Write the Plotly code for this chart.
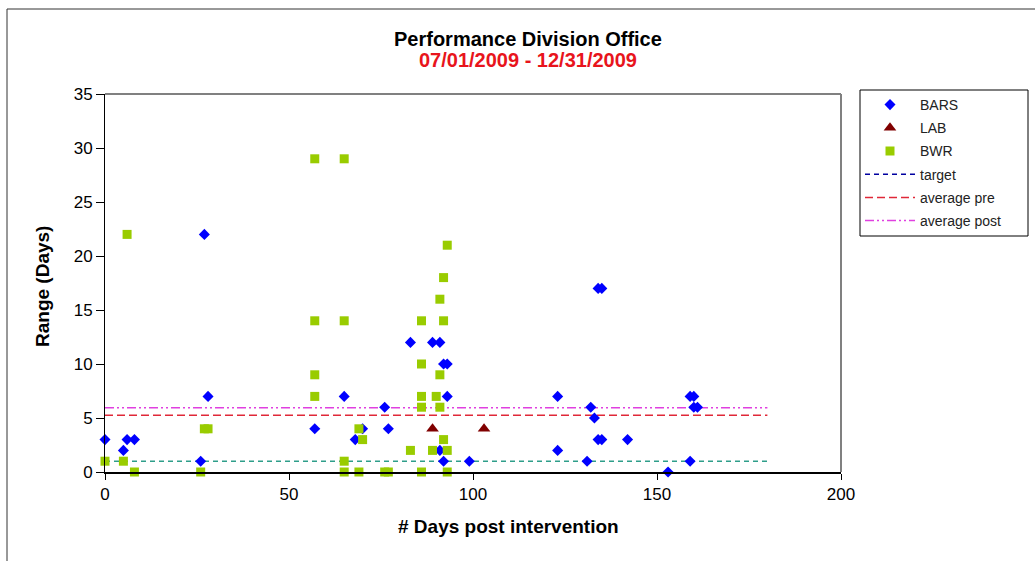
import plotly.graph_objects as go

# ---------------- data ----------------
bars_x = [0, 5, 6, 8, 26, 27, 28, 57, 65, 68, 70, 76, 77, 83, 89, 91, 92, 93, 93,
          91, 92, 99, 123, 123, 131, 132, 133, 134, 135, 134, 135, 142, 153, 159,
          159, 160, 160, 161]
bars_y = [3, 2, 3, 3, 1, 22, 7, 4, 7, 3, 4, 6, 4, 12, 12, 12, 10, 10, 7,
          2, 1, 1, 7, 2, 1, 6, 5, 17, 17, 3, 3, 3, 0, 1,
          7, 7, 6, 6]

lab_x = [89, 103]
lab_y = [4, 4]

bwr_x = [0, 5, 6, 8, 26, 27, 28, 57, 65, 57, 65, 57, 57, 65, 65, 69, 70, 69, 76, 77,
         83, 86, 86, 86, 86, 86, 89, 90, 91, 91, 91, 92, 92, 92, 93, 93, 93]
bwr_y = [1, 1, 22, 0, 0, 4, 4, 29, 29, 14, 14, 9, 7, 1, 0, 4, 3, 0, 0, 0,
         2, 14, 10, 7, 6, 0, 2, 7, 16, 9, 6, 18, 14, 3, 21, 2, 0]

line_x = [0, 180]
target = 1
avg_pre = 5.25
avg_post = 5.95

x_ticks = [0, 50, 100, 150, 200]
y_ticks = [0, 5, 10, 15, 20, 25, 30, 35]

title_main = "Performance Division Office"
title_sub = "07/01/2009 - 12/31/2009"
x_title = "# Days post intervention"
y_title = "Range (Days)"

# ---------------- layout helpers ----------------
W, H = 1035, 561
L, R, T, B = 105, 841, 94, 472  # plot area in px
pw, ph = R - L, B - T


def px(x):
    return (x - L) / pw


def py(y):
    return (B - y) / ph


FONT = "Liberation Sans, Arial, sans-serif"

fig = go.Figure()

# reference lines (drawn first so markers sit on top)
fig.add_trace(go.Scatter(x=line_x, y=[target] * 2, mode="lines",
                         line=dict(color="#2E9E8A", width=1.4, dash="5px,4px"),
                         showlegend=False, hoverinfo="skip"))
fig.add_trace(go.Scatter(x=line_x, y=[avg_pre] * 2, mode="lines", name="average pre",
                         line=dict(color="#E02838", width=1.5, dash="8px,4px"),
                         legendgroup="pre", legendrank=5))
fig.add_trace(go.Scatter(x=line_x, y=[avg_post] * 2, mode="lines", name="average post",
                         line=dict(color="#E040E0", width=1.5,
                                   dash="9px,3px,2px,3px,2px,3px"),
                         legendgroup="post", legendrank=6))

fig.add_trace(go.Scatter(x=bars_x, y=bars_y, mode="markers", name="BARS",
                         marker=dict(symbol="diamond", size=8.5, color="#0000FF"),
                         cliponaxis=False, legendgroup="bars", legendrank=1))
fig.add_trace(go.Scatter(x=lab_x, y=lab_y, mode="markers", name="LAB",
                         marker=dict(symbol="triangle-up", size=11, color="#800000"),
                         cliponaxis=False, legendgroup="lab", legendrank=2))
fig.add_trace(go.Scatter(x=bwr_x, y=bwr_y, mode="markers", name="BWR",
                         marker=dict(symbol="square", size=9, color="#99CC00"),
                         cliponaxis=False, legendgroup="bwr", legendrank=3))
# legend entry for target (legend swatch drawn in navy as in the original)
fig.add_trace(go.Scatter(x=[None], y=[None], mode="lines", name="target",
                         line=dict(color="#0000A0", width=1.5, dash="5px,4px"),
                         legendgroup="target", legendrank=4))

fig.update_layout(
    width=W, height=H,
    margin=dict(l=L, r=W - R, t=T, b=H - B, pad=0),
    paper_bgcolor="white", plot_bgcolor="white",
    font=dict(family=FONT, color="#000000"),
    showlegend=True,
    legend=dict(x=px(860), y=py(89), xanchor="left", yanchor="top",
                borderwidth=0, bgcolor="rgba(0,0,0,0)",
                font=dict(size=14, color="#222222", family=FONT),
                itemwidth=50, traceorder="grouped", tracegroupgap=2),
    xaxis=dict(range=[0, 200], tickvals=x_ticks, ticktext=[str(v) for v in x_ticks],
               showgrid=False, zeroline=False, showline=True, linecolor="#000000",
               linewidth=2, ticks="outside", ticklen=6, tickcolor="#000000",
               tickfont=dict(size=17, family=FONT), fixedrange=True),
    yaxis=dict(range=[0, 35], tickvals=y_ticks, ticktext=[str(v) for v in y_ticks],
               showgrid=False, zeroline=False, showline=True, linecolor="#000000",
               linewidth=1, ticks="outside", ticklen=8, tickcolor="#000000",
               tickfont=dict(size=17, family=FONT), fixedrange=True),
    shapes=[
        # plot-area border (top & right, gray)
        dict(type="line", xref="paper", yref="paper", x0=0, x1=1, y0=1, y1=1,
             line=dict(color="#808080", width=2)),
        dict(type="line", xref="paper", yref="paper", x0=1, x1=1, y0=0, y1=1,
             line=dict(color="#808080", width=2)),
        # chart-area outer border
        dict(type="rect", xref="paper", yref="paper",
             x0=px(7), x1=px(1045), y0=py(575), y1=py(9),
             line=dict(color="#333333", width=1)),
        # legend frame
        dict(type="rect", xref="paper", yref="paper",
             x0=px(860), x1=px(1028), y0=py(236), y1=py(90),
             line=dict(color="#000000", width=1), fillcolor="white", layer="below"),
    ],
    annotations=[
        dict(text="<b>%s</b>" % title_main, xref="paper", yref="paper",
             x=px(528), y=py(39), showarrow=False, xanchor="center", yanchor="middle",
             font=dict(size=20, color="#000000", family=FONT)),
        dict(text="<b>%s</b>" % title_sub, xref="paper", yref="paper",
             x=px(528), y=py(60), showarrow=False, xanchor="center", yanchor="middle",
             font=dict(size=20, color="#E8141C", family=FONT)),
        dict(text="<b>%s</b>" % x_title, xref="paper", yref="paper",
             x=px(508), y=py(526), showarrow=False, xanchor="center", yanchor="middle",
             font=dict(size=19, color="#000000", family=FONT)),
        dict(text="<b>%s</b>" % y_title, xref="paper", yref="paper",
             x=px(42), y=py(286), showarrow=False, xanchor="center", yanchor="middle",
             textangle=-90, font=dict(size=19, color="#000000", family=FONT)),
    ],
)

fig.write_html("out.html")
